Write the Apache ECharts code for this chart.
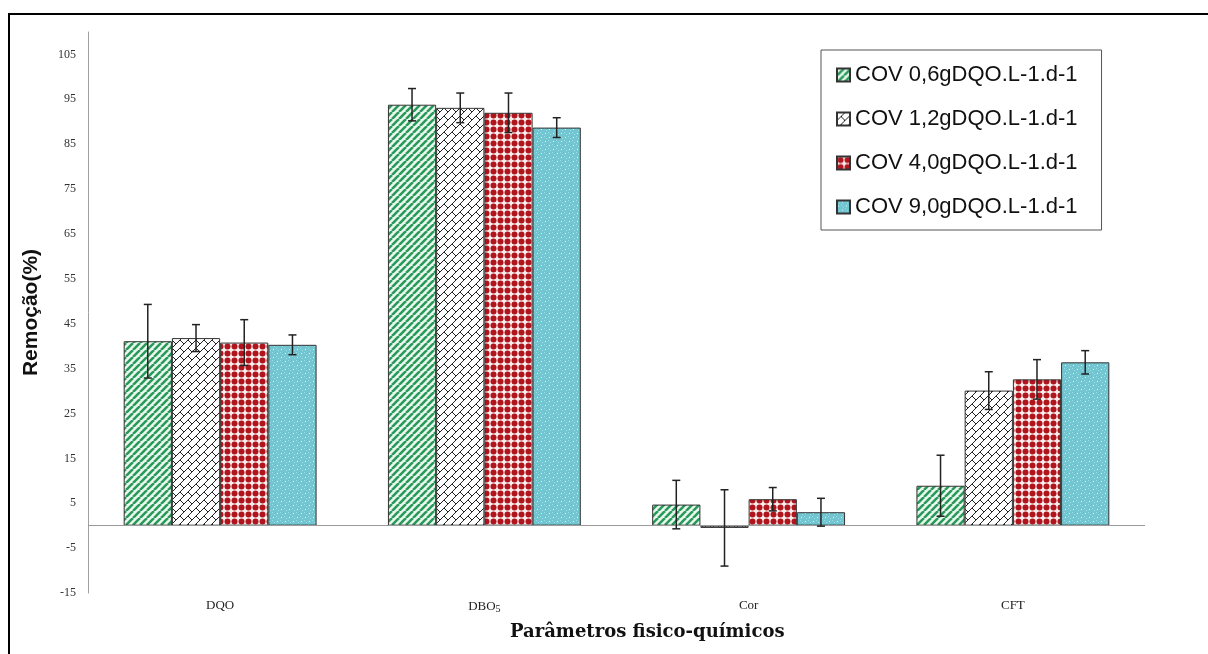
<!DOCTYPE html>
<html>
<head>
<meta charset="utf-8">
<script src="https://cdn.jsdelivr.net/npm/echarts@6/dist/echarts.min.js"></script>
<style>
html,body{margin:0;padding:0;background:#fff;}
#chart{width:1208px;height:654px;}
</style>
</head>
<body>
<div id="chart"></div>
<script>
// ---- data ----
const categories = ['DQO', 'DBO5', 'Cor', 'CFT'];
const seriesNames = ['COV 0,6gDQO.L-1.d-1', 'COV 1,2gDQO.L-1.d-1', 'COV 4,0gDQO.L-1.d-1', 'COV 9,0gDQO.L-1.d-1'];
const cov06 = [41.1, 93.8, 4.7, 8.9];
const cov12 = [41.8, 93.1, -0.5, 30.1];
const cov40 = [40.8, 92.0, 5.9, 32.6];
const cov90 = [40.3, 88.7, 3.0, 36.4];
const err06 = [8.2, 3.6, 5.4, 6.8];
const err12 = [3.0, 3.3, 8.5, 4.2];
const err40 = [5.1, 4.4, 2.6, 4.4];
const err90 = [2.2, 2.2, 3.1, 2.6];
const yMin = -15, yMax = 110, yInterval = 10;

// ---- patterns ----
function tile(w, h, draw) {
  const c = document.createElement('canvas');
  c.width = w; c.height = h;
  draw(c.getContext('2d'), w, h);
  return { image: c, repeat: 'repeat' };
}
const greenPat = tile(7, 7, (ctx, w, h) => {
  ctx.fillStyle = '#eaf8ef'; ctx.fillRect(0, 0, w, h);
  ctx.strokeStyle = '#2a9a5a'; ctx.lineWidth = 2.6;
  ctx.beginPath();
  for (let k = -w; k <= w; k += w) { ctx.moveTo(k, h); ctx.lineTo(k + w, 0); }
  ctx.stroke();
});
const brickPat = tile(8, 8, (ctx, w, h) => {
  ctx.fillStyle = '#ffffff'; ctx.fillRect(0, 0, w, h);
  ctx.strokeStyle = '#222'; ctx.lineWidth = 1;
  ctx.beginPath();
  ctx.moveTo(-1, 9); ctx.lineTo(9, -1);
  ctx.moveTo(4, 4); ctx.lineTo(8, 8);
  ctx.stroke();
});
const redPat = tile(7, 7, (ctx, w, h) => {
  ctx.fillStyle = '#f9eeee'; ctx.fillRect(0, 0, w, h);
  ctx.fillStyle = '#b0141c';
  ctx.beginPath(); ctx.arc(3.5, 3.5, 3.0, 0, Math.PI * 2); ctx.fill();
});
const bluePat = tile(8, 8, (ctx, w, h) => {
  ctx.fillStyle = '#72c6d2'; ctx.fillRect(0, 0, w, h);
  ctx.fillStyle = '#9fdbe3';
  ctx.fillRect(0, 0, 1, 1); ctx.fillRect(2, 2, 1, 1); ctx.fillRect(4, 4, 1, 1); ctx.fillRect(6, 6, 1, 1);
  ctx.fillStyle = '#e4f7f9';
  ctx.fillRect(5, 1, 1, 1); ctx.fillRect(1, 5, 1, 1);
});

const values = [cov06, cov12, cov40, cov90];
const errors = [err06, err12, err40, err90];
const fills = [greenPat, brickPat, redPat, bluePat];
const catGap = 0.27;

const series = [];
values.forEach((vals, i) => {
  series.push({
    name: seriesNames[i],
    type: 'bar',
    data: vals,
    barGap: '0%',
    barCategoryGap: (catGap * 100) + '%',
    itemStyle: { color: fills[i], borderColor: '#333', borderWidth: 1 },
    emphasis: { disabled: true },
    markLine: i === 0 ? {
      silent: true, symbol: 'none', label: { show: false },
      lineStyle: { color: '#9a9a9a', width: 1.2, type: 'solid' },
      data: [{ yAxis: 0 }]
    } : undefined,
    z: 2
  });
});
values.forEach((vals, i) => {
  series.push({
    type: 'custom',
    name: 'err' + i,
    silent: true,
    z: 5,
    data: vals.map((v, j) => [j, v, errors[i][j]]),
    renderItem: function (params, api) {
      const cat = api.value(0), v = api.value(1), e = api.value(2);
      const catW = api.size([1, 0])[0];
      const bw = catW * (1 - catGap) / 4;
      const off = (i - 1.5) * bw;
      const top = api.coord([cat, v + e]);
      const bot = api.coord([cat, v - e]);
      const x = top[0] + off;
      const cap = 4;
      const st = { stroke: '#222', lineWidth: 1.5 };
      return {
        type: 'group',
        children: [
          { type: 'line', shape: { x1: x, y1: top[1], x2: x, y2: bot[1] }, style: st },
          { type: 'line', shape: { x1: x - cap, y1: top[1], x2: x + cap, y2: top[1] }, style: st },
          { type: 'line', shape: { x1: x - cap, y1: bot[1], x2: x + cap, y2: bot[1] }, style: st }
        ]
      };
    }
  });
});

const chart = echarts.init(document.getElementById('chart'), null, { renderer: 'canvas' });
chart.setOption({
  animation: false,
  backgroundColor: '#ffffff',
  grid: { left: 88, right: 63, top: 32, bottom: 61, containLabel: false },
  legend: {
    data: seriesNames.map(n => ({ name: n, icon: 'rect' })),
    orient: 'vertical',
    left: 821, top: 50,
    padding: [14, 24, 12, 15],
    itemGap: 22,
    itemWidth: 13, itemHeight: 13,
    itemTextGap: 4,
    backgroundColor: '#ffffff',
    borderColor: '#555', borderWidth: 1,
    textStyle: { fontFamily: 'Liberation Sans, Arial, sans-serif', fontSize: 22, color: '#111' },
    selectedMode: false
  },
  xAxis: {
    type: 'category',
    data: categories,
    axisLine: { show: false, onZero: false },
    axisTick: { show: false },
    axisLabel: {
      fontFamily: 'Liberation Serif, serif', fontSize: 13, color: '#222', margin: 6,
      formatter: function (v) { return v === 'DBO5' ? 'DBO{sub|5}' : v; },
      rich: { sub: { fontFamily: 'Liberation Serif, serif', fontSize: 10, color: '#222', verticalAlign: 'bottom', padding: [5, 0, 0, 0] } }
    },
    splitLine: { show: false }
  },
  yAxis: {
    type: 'value',
    min: yMin, max: yMax, interval: yInterval,
    axisLine: { show: true, lineStyle: { color: '#a0a0a0', width: 1 } },
    axisTick: { show: false },
    splitLine: { show: false },
    axisLabel: { fontFamily: 'Liberation Serif, serif', fontSize: 12, color: '#333', margin: 12, showMaxLabel: false },
    name: 'Remoção(%)',
    nameLocation: 'middle',
    nameRotate: 90,
    nameGap: 46,
    nameTextStyle: { fontFamily: 'Liberation Sans, Arial, sans-serif', fontWeight: 'bold', fontSize: 21, color: '#111' }
  },
  graphic: [
    { type: 'rect', z: -10, silent: true, shape: { x: 9, y: 14, width: 1300, height: 700 },
      style: { fill: null, stroke: '#000', lineWidth: 2 } },
    { type: 'text', left: 510, top: 623, silent: true,
      style: { text: 'Parâmetros fisico-químicos', font: 'bold 18px "DejaVu Serif", serif', fill: '#111' } }
  ],
  series: series
});
</script>
</body>
</html>
